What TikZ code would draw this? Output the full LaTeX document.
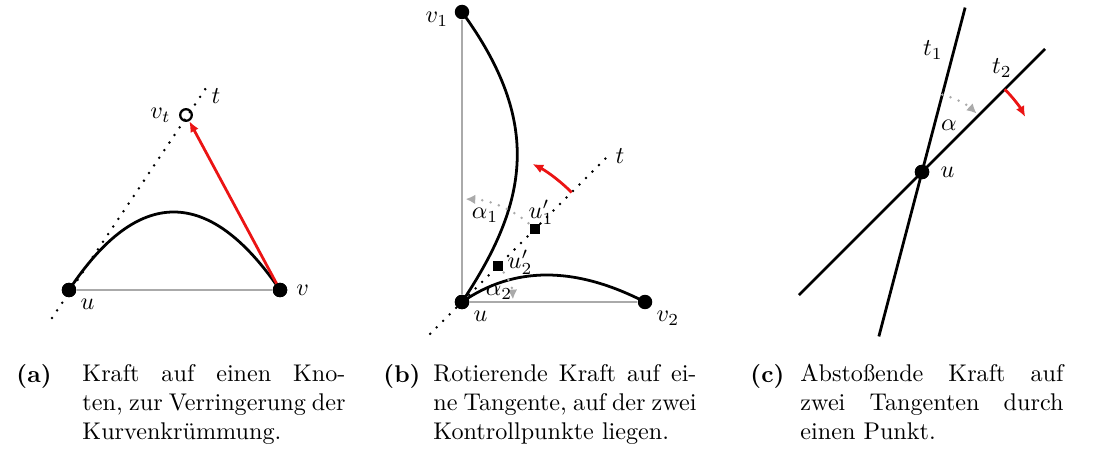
\documentclass[tikz,border=0pt]{standalone}
\usepackage{amsmath,amssymb}
\usepackage{tikz}
\usetikzlibrary{arrows.meta,positioning,calc}
\usepackage{xcolor}
\definecolor{cKraft}{RGB}{235,20,20}
\definecolor{cHilf}{RGB}{170,170,170}

\tikzset{
  knoten/.style={circle,fill=black,inner sep=0pt,minimum size=6pt},
  leer/.style={circle,draw=black,line width=0.95pt,fill=white,inner sep=0pt,minimum size=4.8pt},
  kpunkt/.style={rectangle,fill=black,inner sep=0pt,minimum size=4.2pt},
  kurve/.style={line width=1.15pt},
  hilfslinie/.style={cHilf,line width=0.9pt},
  tangente/.style={line width=1.15pt,line cap=round,dash pattern=on 0pt off 3.8pt},
  winkel/.style={cHilf,line width=1.15pt,line cap=round,dash pattern=on 0pt off 3.6pt,
    -{Latex[length=4pt,width=4pt]}},
  kraft/.style={cKraft,line width=1.15pt,-{Latex[length=4.5pt,width=3.8pt]}},
  capl/.style={anchor=north west,inner sep=0pt,font=\bfseries},
  capt/.style={anchor=north west,inner sep=0pt,text width=108.9pt,align=justify},
}

\begin{document}
\begin{tikzpicture}[x=0.414pt,y=0.414pt]
  \useasboundingbox (0,0) rectangle (1096,452);
  % (a) Kraft auf einen Knoten
  \node[knoten] (au) at (69,162) {};
  \node[knoten] (av) at (280,162) {};
  \node[leer] (avt) at (186,337) {};
  \coordinate (at1) at (52,134);
  \coordinate (at2) at (210,370);
  \draw[tangente] (at1) -- (at2);
  \draw[hilfslinie] (au) -- (av);
  \draw[kurve] (au.center) .. controls (138,266) and (209,266) .. (av.center);
  \draw[kraft] (av.center) -- (avt);
  \node[knoten] at (au) {};
  \node[knoten] at (av) {};
  \node[below right=-2pt and -1pt of au] {$u$};
  \node[right=0pt of av] {$v$};
  \node[left=0pt of avt] {$v_t$};
  \node at (216,356) {$t$};

  % (b) Rotierende Kraft auf eine Tangente
  \node[knoten] (bu) at (462,150) {};
  \node[knoten] (bv1) at (462,440) {};
  \node[knoten] (bv2) at (645,150) {};
  \coordinate (bt1) at ($(bu)+(225:45)$);
  \coordinate (bt2) at ($(bu)+(45:205)$);
  \draw[hilfslinie] (bu) -- (bv1);
  \draw[hilfslinie] (bu) -- (bv2);
  \draw[tangente] (bt1) -- (bt2);
  \draw[kurve] (bu.center) .. controls (528,249) and (543,329) .. (bv1.center);
  \draw[kurve] (bu.center) .. controls (514,186) and (575,186) .. (bv2.center);
  \coordinate (bk1) at ($(bu)+(45:103)$);
  \coordinate (bk2) at ($(bu)+(45:51)$);
  \draw[winkel] (bk1) arc[start angle=45,end angle=88,radius=103];
  \draw[winkel] (bk2) arc[start angle=45,end angle=3,radius=51];
  \node[kpunkt] at (bk1) {};
  \node[kpunkt] at (bk2) {};
  \draw[kraft] ($(bu)+(45:155)$) arc[start angle=45,end angle=63,radius=155];
  \node[knoten] at (bu) {};
  \node[below right=-2pt and -1pt of bu] {$u$};
  \node[left=-1pt of bv1,yshift=-3pt] {$v_1$};
  \node[below right=-2pt and -1pt of bv2] {$v_2$};
  \node at (541,240) {$u_1'$};
  \node at (520,190) {$u_2'$};
  \node at (485,237) {$\alpha_1$};
  \node at (499,160) {$\alpha_2$};
  \node at (620,296) {$t$};

  % (c) Abstossende Kraft auf zwei Tangenten
  \node[knoten] (cu) at (922,280) {};
  \coordinate (ca1) at ($(cu)+(75.3:170)$);
  \coordinate (ca2) at ($(cu)+(255.3:170)$);
  \coordinate (cb1) at ($(cu)+(45:174)$);
  \coordinate (cb2) at ($(cu)+(225:174)$);
  \draw[kurve] (ca2) -- (ca1);
  \draw[kurve] (cb2) -- (cb1);
  \draw[winkel] ($(cu)+(75.3:80)$) arc[start angle=75.3,end angle=47,radius=80];
  \draw[kraft] ($(cu)+(45:117)$) arc[start angle=45,end angle=28,radius=117];
  \node[knoten] at (cu) {};
  \node[right=1pt of cu] {$u$};
  \node at (933,402) {$t_1$};
  \node at (1002,384) {$t_2$};
  \node at (949,327) {$\alpha$};

  % Bildunterschriften
  \node[capl] (capa) at (16,88) {(a)};
  \node[capt] (capta) at (82,88) {Kraft auf einen Kno-\linebreak ten, zur Verringerung der Kurvenkrümmung.};
  \node[capl] (capb) at (383,88) {(b)};
  \node[capt] (captb) at (433,88) {Rotierende Kraft auf ei-\linebreak ne Tangente, auf der zwei Kontrollpunkte liegen.};
  \node[capl] (capc) at (750,88) {(c)};
  \node[capt] (captc) at (800,88) {Abstoßende Kraft auf zwei Tangenten durch einen Punkt.};
\end{tikzpicture}
\end{document}
